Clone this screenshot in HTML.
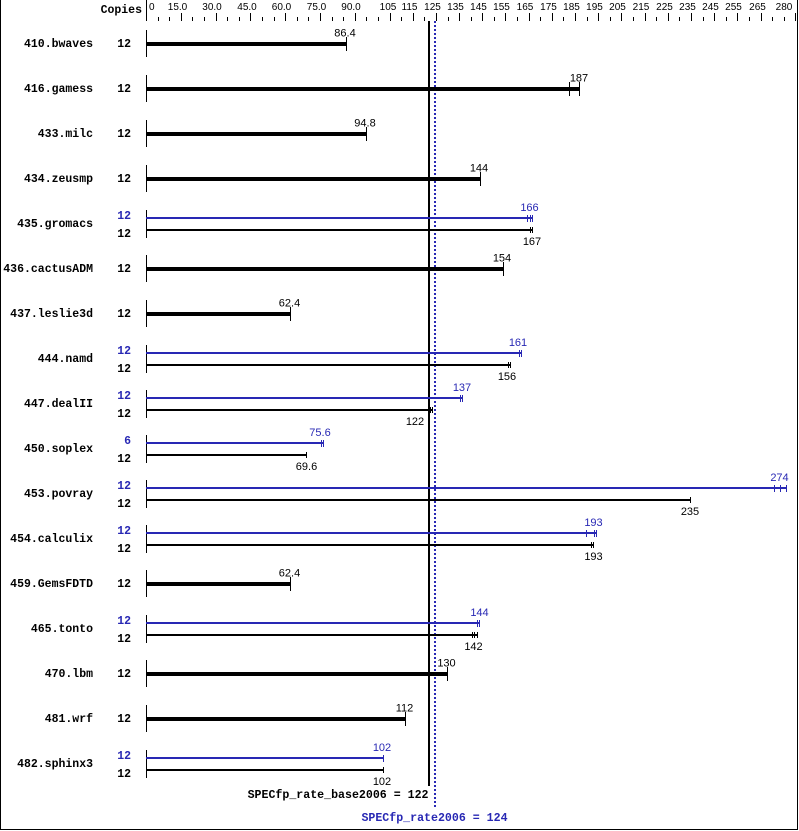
<!DOCTYPE html>
<html><head><meta charset="utf-8"><style>
html,body{margin:0;padding:0;background:#fff;}
svg{display:block;}
text{font-family:"Liberation Mono","DejaVu Sans Mono",monospace;}
.n{font-size:11.5px;font-weight:bold;text-anchor:end;}
.c{font-size:11.5px;font-weight:bold;text-anchor:end;}
.v{font-size:11px;text-anchor:middle;}
.t{font-size:10px;text-anchor:middle;}
.v text,.t text{font-family:"Liberation Sans","DejaVu Sans",sans-serif;}
.b{fill:#2828b4;}
</style></head><body>
<svg width="799" height="831" viewBox="0 0 799 831" xmlns="http://www.w3.org/2000/svg" shape-rendering="crispEdges">
<rect x="0" y="0" width="799" height="831" fill="#fff"/>
<!-- border -->
<line x1="0.5" y1="0" x2="0.5" y2="830" stroke="#000"/>
<line x1="0" y1="829.5" x2="798" y2="829.5" stroke="#000"/>
<line x1="797.5" y1="0" x2="797.5" y2="830" stroke="#000"/>
<!-- axis -->
<text x="142" y="13" class="c" style="text-anchor:end">Copies</text>
<line x1="146.5" y1="0" x2="146.5" y2="21" stroke="#000"/>
<path stroke="#000" fill="none" d="
M158.5 17V21 M169.5 17V21 M181.5 13V21 M192.5 17V21 M204.5 17V21 M216.5 13V21
M227.5 17V21 M239.5 17V21 M250.5 13V21 M262.5 17V21 M274.5 17V21 M285.5 13V21
M297.5 17V21 M308.5 17V21 M320.5 13V21 M332.5 17V21 M343.5 17V21 M355.5 13V21
M366.5 17V21 M378.5 17V21 M390.5 13V21 M401.5 17V21 M413.5 13V21 M424.5 17V21
M436.5 13V21 M448.5 17V21 M459.5 13V21 M471.5 17V21 M482.5 13V21 M494.5 17V21
M505.5 13V21 M517.5 17V21 M529.5 13V21 M540.5 17V21 M552.5 13V21 M563.5 17V21
M575.5 13V21 M587.5 17V21 M598.5 13V21 M610.5 17V21 M621.5 13V21 M633.5 17V21
M645.5 13V21 M656.5 17V21 M668.5 13V21 M679.5 17V21 M691.5 13V21 M703.5 17V21
M714.5 13V21 M726.5 17V21 M737.5 13V21 M749.5 17V21 M761.5 13V21 M772.5 17V21
M784.5 17V21 M795.5 13V21"/>
<g class="t">
<text x="149" y="10" style="text-anchor:start">0</text>
<text x="177.5" y="10">15.0</text>
<text x="212" y="10">30.0</text>
<text x="247" y="10">45.0</text>
<text x="281.5" y="10">60.0</text>
<text x="316.5" y="10">75.0</text>
<text x="351" y="10">90.0</text>
<text x="388" y="10">105</text>
<text x="409.5" y="10">115</text>
<text x="432.5" y="10">125</text>
<text x="455.5" y="10">135</text>
<text x="478.5" y="10">145</text>
<text x="501.5" y="10">155</text>
<text x="525" y="10">165</text>
<text x="548.5" y="10">175</text>
<text x="571.5" y="10">185</text>
<text x="594.5" y="10">195</text>
<text x="617.5" y="10">205</text>
<text x="641" y="10">215</text>
<text x="664.5" y="10">225</text>
<text x="687.5" y="10">235</text>
<text x="710.5" y="10">245</text>
<text x="733.5" y="10">255</text>
<text x="757.5" y="10">265</text>
<text x="784" y="10">280</text>
</g>

<!-- reference lines -->
<rect x="428" y="21" width="2" height="765" fill="#000"/>
<line x1="435" y1="21" x2="435" y2="807" stroke="#2828b4" stroke-width="2" stroke-dasharray="2,2"/>

<!-- names -->
<g class="n">
<text x="93" y="47">410.bwaves</text>
<text x="93" y="92">416.gamess</text>
<text x="93" y="137">433.milc</text>
<text x="93" y="182">434.zeusmp</text>
<text x="93" y="227">435.gromacs</text>
<text x="93" y="272">436.cactusADM</text>
<text x="93" y="317">437.leslie3d</text>
<text x="93" y="362">444.namd</text>
<text x="93" y="407">447.dealII</text>
<text x="93" y="452">450.soplex</text>
<text x="93" y="497">453.povray</text>
<text x="93" y="542">454.calculix</text>
<text x="93" y="587">459.GemsFDTD</text>
<text x="93" y="632">465.tonto</text>
<text x="93" y="677">470.lbm</text>
<text x="93" y="722">481.wrf</text>
<text x="93" y="767">482.sphinx3</text>
</g>

<!-- copies -->
<g class="c">
<text x="131" y="47">12</text>
<text x="131" y="92">12</text>
<text x="131" y="137">12</text>
<text x="131" y="182">12</text>
<text x="131" y="219" class="b">12</text><text x="131" y="237">12</text>
<text x="131" y="272">12</text>
<text x="131" y="317">12</text>
<text x="131" y="354" class="b">12</text><text x="131" y="372">12</text>
<text x="131" y="399" class="b">12</text><text x="131" y="417">12</text>
<text x="131" y="444" class="b">6</text><text x="131" y="462">12</text>
<text x="131" y="489" class="b">12</text><text x="131" y="507">12</text>
<text x="131" y="534" class="b">12</text><text x="131" y="552">12</text>
<text x="131" y="587">12</text>
<text x="131" y="624" class="b">12</text><text x="131" y="642">12</text>
<text x="131" y="677">12</text>
<text x="131" y="722">12</text>
<text x="131" y="759" class="b">12</text><text x="131" y="777">12</text>
</g>

<!-- left row lines -->
<path stroke="#000" fill="none" d="
M146.5 30V57 M146.5 75V102 M146.5 120V147 M146.5 165V192 M146.5 210V238
M146.5 255V282 M146.5 300V327 M146.5 345V373 M146.5 390V418 M146.5 435V463
M146.5 480V508 M146.5 525V553 M146.5 570V597 M146.5 615V643 M146.5 660V687
M146.5 705V732 M146.5 750V778"/>

<!-- single bars (thick) -->
<g fill="#000">
<rect x="146" y="42" width="201" height="4"/>
<rect x="146" y="87" width="434" height="4"/>
<rect x="146" y="132" width="221" height="4"/>
<rect x="146" y="177" width="335" height="4"/>
<rect x="146" y="267" width="358" height="4"/>
<rect x="146" y="312" width="145" height="4"/>
<rect x="146" y="582" width="145" height="4"/>
<rect x="146" y="672" width="302" height="4"/>
<rect x="146" y="717" width="260" height="4"/>
</g>
<path stroke="#000" fill="none" d="
M346.5 37V51
M569.5 82V96 M579.5 82V96
M366.5 127V141
M480.5 172V186
M503.5 262V276
M290.5 307V321
M290.5 577V591
M447.5 667V681
M405.5 712V726"/>
<g class="v">
<text x="345" y="36.5">86.4</text>
<text x="579" y="81.5">187</text>
<text x="365" y="126.5">94.8</text>
<text x="479" y="171.5">144</text>
<text x="502" y="261.5">154</text>
<text x="289.5" y="306.5">62.4</text>
<text x="289.5" y="576.5">62.4</text>
<text x="446.5" y="666.5">130</text>
<text x="404.5" y="711.5">112</text>
</g>

<!-- dual bars: blue -->
<g fill="#2828b4">
<rect x="146" y="217" width="387" height="2"/>
<rect x="146" y="352" width="376" height="2"/>
<rect x="146" y="397" width="317" height="2"/>
<rect x="146" y="442" width="178" height="2"/>
<rect x="146" y="487" width="641" height="2"/>
<rect x="146" y="532" width="451" height="2"/>
<rect x="146" y="622" width="334" height="2"/>
<rect x="146" y="757" width="238" height="2"/>
</g>
<path stroke="#2828b4" fill="none" d="
M527.5 215V222 M530.5 215V222 M532.5 215V222
M519.5 350V357 M521.5 350V357
M460.5 395V402 M462.5 395V402
M321.5 440V447 M323.5 440V447
M774.5 485V492 M780.5 485V492 M786.5 485V492
M586.5 530V537 M594.5 530V537 M596.5 530V537
M477.5 620V627 M479.5 620V627
M383.5 755V762"/>
<g class="v b">
<text x="529.5" y="211">166</text>
<text x="518" y="346">161</text>
<text x="462" y="391">137</text>
<text x="320" y="436">75.6</text>
<text x="779.5" y="481">274</text>
<text x="593.5" y="526">193</text>
<text x="479.5" y="616">144</text>
<text x="382" y="751">102</text>
</g>

<!-- dual bars: black -->
<g fill="#000">
<rect x="146" y="229" width="387" height="2"/>
<rect x="146" y="364" width="365" height="2"/>
<rect x="146" y="409" width="287" height="2"/>
<rect x="146" y="454" width="161" height="2"/>
<rect x="146" y="499" width="545" height="2"/>
<rect x="146" y="544" width="448" height="2"/>
<rect x="146" y="634" width="332" height="2"/>
<rect x="146" y="769" width="238" height="2"/>
</g>
<path stroke="#000" fill="none" d="
M530.5 227V233 M532.5 227V233
M508.5 362V368 M510.5 362V368
M430.5 407V413 M432.5 407V413
M306.5 452V458
M690.5 497V503
M591.5 542V548 M593.5 542V548
M472.5 632V638 M474.5 632V638 M477.5 632V638
M383.5 767V773"/>
<g class="v">
<text x="532" y="245">167</text>
<text x="507" y="380">156</text>
<text x="415" y="425">122</text>
<text x="306.5" y="470">69.6</text>
<text x="690" y="515">235</text>
<text x="593.5" y="560">193</text>
<text x="473.5" y="650">142</text>
<text x="382" y="785">102</text>
</g>

<!-- summary labels -->
<text x="428.5" y="798" style="font-size:11.6px;font-weight:bold;text-anchor:end">SPECfp_rate_base2006 = 122</text>
<text x="434.5" y="821" class="b" style="font-size:11.6px;font-weight:bold;text-anchor:middle">SPECfp_rate2006 = 124</text>
</svg>
</body></html>
